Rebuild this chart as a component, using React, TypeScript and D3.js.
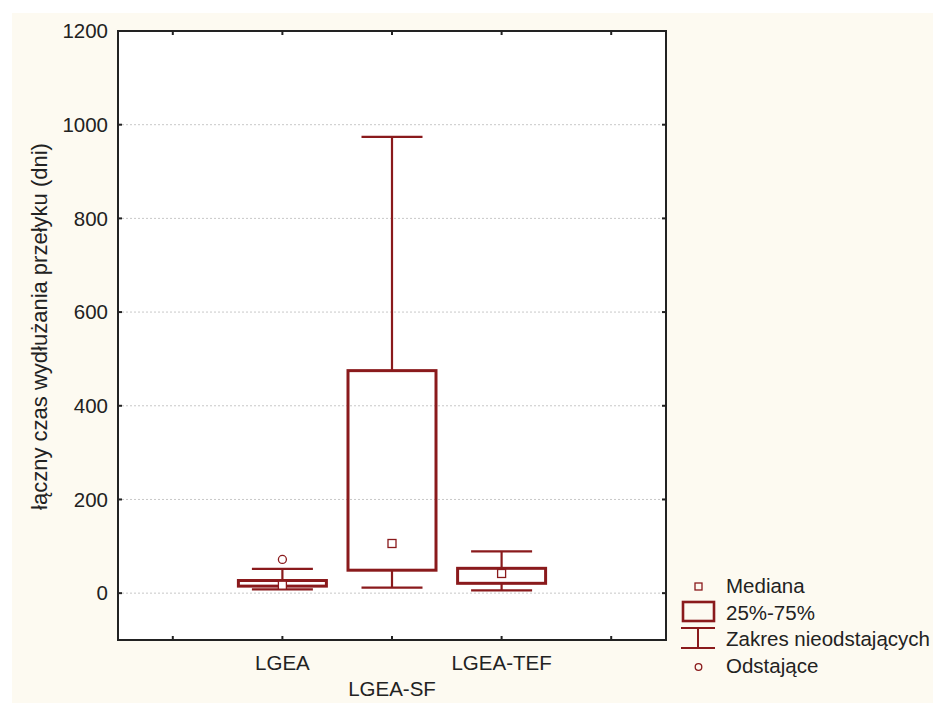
import React from "react";
import * as d3 from "d3";

const categories = ["LGEA", "LGEA-SF", "LGEA-TEF"];
const q1Values = [15, 49, 21];
const q3Values = [27, 475, 53];
const medianValues = [17, 106, 42];
const whiskerLowValues = [8, 12, 6];
const whiskerHighValues = [52, 974, 89];
const outlierValues = [[72], [], []];
const yTicks = [0, 200, 400, 600, 800, 1000, 1200];
const xTicks = [0, 1, 2, 3, 4];
const legendLabels = ["Mediana", "25%-75%", "Zakres nieodstających", "Odstające"];
const yLabel = "łączny czas wydłużania przełyku (dni)";

const W = 933;
const H = 703;
const left = 118, right = 666, top = 31, bottom = 640;
const red = "#8a1a1c";
const font = "'Liberation Sans', Arial, sans-serif";
const fs = 20.5;

export default function App() {
  const x = d3.scaleLinear().domain([-0.5, 4.5]).range([left, right]);
  const y = d3.scaleLinear().domain([-100, 1200]).range([bottom, top]);
  const boxW = 88;
  const capW = 61;
  const tick = 4;

  return (
    <svg width={W} height={H} style={{ position: "absolute", left: 0, top: 0 }} fontFamily={font}>
      <rect x={0} y={0} width={W} height={H} fill="#ffffff" />
      <rect x={12} y={13} width={W - 12} height={H - 13} fill="#fdfaf1" />
      <rect x={left} y={top} width={right - left} height={bottom - top} fill="#ffffff" />
      {yTicks.filter((t) => t !== 1200).map((t) => (
        <line key={"g" + t} x1={left} x2={right} y1={y(t)} y2={y(t)} stroke="#c8c8c8" strokeWidth={1} strokeDasharray="2,2" />
      ))}
      {yTicks.map((t) => (
        <g key={"yt" + t}>
          <line x1={left} x2={left + tick} y1={y(t)} y2={y(t)} stroke="#222" strokeWidth={2} />
          <line x1={right} x2={right - tick} y1={y(t)} y2={y(t)} stroke="#222" strokeWidth={2} />
          <text x={left - 10} y={y(t)} dy="0.35em" textAnchor="end" fontSize={fs} fill="#222">{t}</text>
        </g>
      ))}
      {xTicks.map((t) => (
        <g key={"xt" + t}>
          <line x1={x(t)} x2={x(t)} y1={top} y2={top + tick} stroke="#222" strokeWidth={2} />
          <line x1={x(t)} x2={x(t)} y1={bottom} y2={bottom - tick} stroke="#222" strokeWidth={2} />
        </g>
      ))}
      {categories.map((c, i) => (
        <text key={"xl" + c} x={x(i + 1)} y={i === 1 ? 696 : 670} textAnchor="middle" fontSize={fs} fill="#222">{c}</text>
      ))}
      <rect x={left} y={top} width={right - left} height={bottom - top} fill="none" stroke="#222" strokeWidth={2} />
      <text transform={`translate(47,${(top + bottom) / 2 - 9}) rotate(-90)`} textAnchor="middle" fontSize={22} fill="#222">{yLabel}</text>
      {categories.map((c, i) => {
        const cx = x(i + 1);
        return (
          <g key={"b" + c}>
            <line x1={cx} x2={cx} y1={y(whiskerHighValues[i])} y2={y(q3Values[i])} stroke={red} strokeWidth={2.2} />
            <line x1={cx} x2={cx} y1={y(q1Values[i])} y2={y(whiskerLowValues[i])} stroke={red} strokeWidth={2.2} />
            <line x1={cx - capW / 2} x2={cx + capW / 2} y1={y(whiskerHighValues[i])} y2={y(whiskerHighValues[i])} stroke={red} strokeWidth={2.2} />
            <line x1={cx - capW / 2} x2={cx + capW / 2} y1={y(whiskerLowValues[i])} y2={y(whiskerLowValues[i])} stroke={red} strokeWidth={2.2} />
            <rect x={cx - boxW / 2} y={y(q3Values[i])} width={boxW} height={y(q1Values[i]) - y(q3Values[i])} fill="none" stroke={red} strokeWidth={3} />
            <rect x={cx - 4} y={y(medianValues[i]) - 4} width={8} height={8} fill="#ffffff" stroke={red} strokeWidth={1.3} />
            {outlierValues[i].map((o, j) => (
              <circle key={j} cx={cx} cy={y(o)} r={4} fill="#ffffff" stroke={red} strokeWidth={1.3} />
            ))}
          </g>
        );
      })}
      <g>
        <rect x={695} y={583} width={7} height={7} fill="none" stroke={red} strokeWidth={1.3} />
        <rect x={683} y={602} width={31} height={19} fill="none" stroke={red} strokeWidth={2.6} />
        <line x1={681} x2={715} y1={628} y2={628} stroke={red} strokeWidth={2} />
        <line x1={681} x2={715} y1={648} y2={648} stroke={red} strokeWidth={2} />
        <line x1={698} x2={698} y1={628} y2={648} stroke={red} strokeWidth={2} />
        <circle cx={698.5} cy={667} r={3.3} fill="none" stroke={red} strokeWidth={1.3} />
        {legendLabels.map((l, i) => (
          <text key={l} x={726} y={586 + i * 26.5} dy="0.35em" fontSize={fs} fill="#222">{l}</text>
        ))}
      </g>
    </svg>
  );
}
